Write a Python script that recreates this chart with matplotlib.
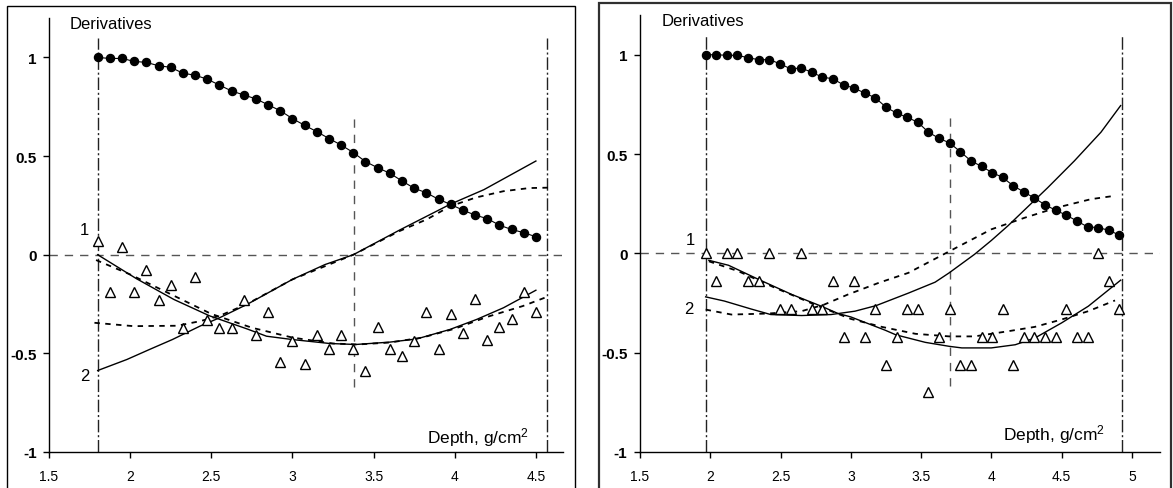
import matplotlib
matplotlib.use("Agg")
import matplotlib.pyplot as plt
from matplotlib.patches import Rectangle

plt.rcParams['font.family'] = ['Liberation Sans', 'DejaVu Sans']
plt.rcParams['mathtext.default'] = 'regular'

# ---------------- Left panel data ----------------
left_depth = [1.8, 1.875, 1.95, 2.025, 2.1, 2.175, 2.25, 2.325, 2.4, 2.475, 2.55, 2.625,
              2.7, 2.775, 2.85, 2.925, 3.0, 3.075, 3.15, 3.225, 3.3, 3.375, 3.45, 3.525,
              3.6, 3.675, 3.75, 3.825, 3.9, 3.975, 4.05, 4.125, 4.2, 4.275, 4.35, 4.425, 4.5]
left_circles = [1.0, 0.995, 0.995, 0.98, 0.975, 0.958, 0.95, 0.92, 0.91, 0.89, 0.86, 0.83,
                0.81, 0.79, 0.76, 0.73, 0.69, 0.656, 0.624, 0.589, 0.556, 0.518, 0.472, 0.441,
                0.413, 0.374, 0.337, 0.314, 0.281, 0.255, 0.226, 0.201, 0.183, 0.150, 0.128,
                0.112, 0.091]
left_triangles = [0.069, -0.188, 0.04, -0.188, -0.078, -0.227, -0.151, -0.37, -0.114, -0.332,
                  -0.37, -0.37, -0.227, -0.405, -0.29, -0.545, -0.439, -0.552, -0.405, -0.477,
                  -0.405, -0.477, -0.587, -0.366, -0.477, -0.515, -0.439, -0.291, -0.477,
                  -0.298, -0.396, -0.223, -0.433, -0.366, -0.328, -0.188, -0.29]

left_c1_solid_x = [1.8, 2.04, 2.27, 2.49, 2.72, 2.84, 3.0, 3.23, 3.39, 3.6, 3.765, 3.97, 4.135, 4.3, 4.5]
left_c1_solid_y = [0.0, -0.122, -0.227, -0.31, -0.376, -0.413, -0.43, -0.45, -0.455, -0.443,
                   -0.427, -0.379, -0.328, -0.269, -0.18]
left_c1_dash_x = [1.79, 2.0, 2.25, 2.5, 2.75, 3.0, 3.25, 3.4, 3.6, 3.8, 4.0, 4.2, 4.42, 4.58]
left_c1_dash_y = [-0.027, -0.1, -0.2, -0.3, -0.37, -0.42, -0.45, -0.455, -0.445, -0.42,
                  -0.375, -0.315, -0.26, -0.21]
left_c2_solid_x = [1.8, 1.98, 2.12, 2.26, 2.43, 2.55, 2.72, 3.0, 3.2, 3.375, 3.66, 3.87, 3.97, 4.18, 4.5]
left_c2_solid_y = [-0.587, -0.531, -0.48, -0.43, -0.362, -0.32, -0.252, -0.125, -0.05, 0.0,
                   0.125, 0.213, 0.255, 0.33, 0.475]
left_c2_dash_x = [1.78, 2.02, 2.29, 2.43, 2.55, 2.72, 3.0, 3.375, 3.66, 3.83, 3.97, 4.13, 4.3, 4.46, 4.58]
left_c2_dash_y = [-0.345, -0.362, -0.36, -0.337, -0.31, -0.25, -0.125, 0.0, 0.12, 0.18, 0.245,
                  0.29, 0.322, 0.338, 0.34]

# ---------------- Right panel data ----------------
right_depth = [1.967, 2.042, 2.118, 2.193, 2.269, 2.344, 2.42, 2.495, 2.571, 2.646, 2.722,
               2.797, 2.873, 2.948, 3.024, 3.099, 3.175, 3.25, 3.326, 3.401, 3.477, 3.552,
               3.628, 3.703, 3.779, 3.854, 3.93, 4.005, 4.081, 4.156, 4.232, 4.307, 4.383,
               4.458, 4.534, 4.609, 4.685, 4.76, 4.836, 4.911]
right_circles = [1.0, 1.0, 0.997, 0.997, 0.985, 0.975, 0.975, 0.955, 0.929, 0.933, 0.912,
                 0.887, 0.879, 0.848, 0.832, 0.807, 0.783, 0.736, 0.706, 0.685, 0.66, 0.61,
                 0.579, 0.556, 0.512, 0.466, 0.438, 0.407, 0.382, 0.34, 0.309, 0.278, 0.244,
                 0.217, 0.192, 0.163, 0.133, 0.13, 0.116, 0.092]
right_triangles = [0.0, -0.14, 0.0, 0.0, -0.14, -0.14, 0.0, -0.28, -0.28, 0.0, -0.28, -0.28,
                   -0.14, -0.42, -0.14, -0.42, -0.28, -0.56, -0.42, -0.28, -0.28, -0.70,
                   -0.42, -0.28, -0.56, -0.56, -0.42, -0.42, -0.28, -0.56, -0.42, -0.42,
                   -0.42, -0.42, -0.28, -0.42, -0.42, 0.0, -0.14, -0.28]

right_c1_solid_x = [1.99, 2.13, 2.34, 2.58, 2.79, 2.91, 3.0, 3.245, 3.32, 3.53, 3.7, 3.79, 4.0,
                    4.17, 4.31, 4.5, 4.69, 4.92]
right_c1_solid_y = [-0.035, -0.06, -0.13, -0.207, -0.266, -0.303, -0.32, -0.387, -0.41, -0.448,
                    -0.468, -0.476, -0.476, -0.46, -0.426, -0.35, -0.266, -0.135]
right_c1_dash_x = [1.99, 2.2, 2.45, 2.75, 3.0, 3.22, 3.46, 3.7, 3.88, 4.12, 4.31, 4.5, 4.69, 4.88]
right_c1_dash_y = [-0.04, -0.09, -0.17, -0.26, -0.33, -0.37, -0.405, -0.418, -0.418, -0.392,
                   -0.37, -0.333, -0.291, -0.237]
right_c2_solid_x = [1.967, 2.1, 2.29, 2.43, 2.65, 2.86, 3.03, 3.18, 3.41, 3.6, 3.7, 3.88, 4.0,
                    4.12, 4.26, 4.4, 4.59, 4.78, 4.92]
right_c2_solid_y = [-0.219, -0.24, -0.28, -0.308, -0.313, -0.308, -0.291, -0.263, -0.2, -0.145,
                    -0.098, -0.005, 0.065, 0.14, 0.235, 0.33, 0.465, 0.61, 0.744]
right_c2_dash_x = [1.967, 2.15, 2.41, 2.65, 2.81, 2.98, 3.2, 3.41, 3.7, 4.0, 4.24, 4.47, 4.71, 4.88]
right_c2_dash_y = [-0.283, -0.308, -0.303, -0.291, -0.258, -0.207, -0.148, -0.098, 0.01,
                   0.121, 0.18, 0.231, 0.273, 0.29]

y_ticks = [-1, -0.5, 0, 0.5, 1]
y_tick_labels = ['-1', '-0.5', '0', '0.5', '1']

W, H = 1173, 489
fig = plt.figure(figsize=(W / 100, H / 100), dpi=100)
fig.patch.set_facecolor('white')

# panel frames
fig.add_artist(Rectangle((7 / W, -0.05), (575 - 7) / W, 1 - 7 / H + 0.05,
                         transform=fig.transFigure, fill=False, ec='black', lw=1.0))
fig.add_artist(Rectangle((599 / W, -0.05), (1171 - 599) / W, 1 - 4 / H + 0.05,
                         transform=fig.transFigure, fill=False, ec='#303030', lw=1.6))


def make_panel(rect, xlim, xticks, xticklabels, depth, circles, tris,
               c1s, c1d, c2s, c2d, vlines, vmid, lab1, lab2, der_pos, depth_pos):
    ax = fig.add_axes(rect)
    ax.set_xlim(*xlim)
    ax.set_ylim(-1, 1.2)
    for s in ['top', 'right']:
        ax.spines[s].set_visible(False)
    for s in ['left', 'bottom']:
        ax.spines[s].set_linewidth(1.0)
    ax.set_yticks(y_ticks)
    ax.set_yticklabels(y_tick_labels, fontsize=11, fontweight='bold')
    ax.set_xticks(xticks)
    ax.set_xticklabels(xticklabels, fontsize=10)
    ax.tick_params(axis='y', length=4, width=1, pad=5, direction='out')
    ax.tick_params(axis='x', length=4, width=1, pad=8, direction='out')
    ax.patch.set_alpha(0)

    # reference lines
    ax.axhline(0, color='#555555', lw=1.0, ls=(0, (6, 5)), zorder=1)
    for xv in vlines:
        ax.plot([xv, xv], [-1, 1.1], color='#222222', lw=1.0, ls=(0, (9, 2, 1.5, 2)), zorder=1)
    ax.plot([vmid, vmid], [-0.67, 0.70], color='#555555', lw=1.0, ls=(0, (6, 5)), zorder=1)

    # curves
    ax.plot(*c1s, color='black', lw=1.0, zorder=3)
    ax.plot(*c1d, color='black', lw=1.3, ls=(0, (3, 3)), zorder=3)
    ax.plot(*c2s, color='black', lw=1.0, zorder=3)
    ax.plot(*c2d, color='black', lw=1.3, ls=(0, (3, 3)), zorder=3)

    # circles
    ax.plot(depth, circles, color='black', lw=0.8, marker='o', ms=5.8,
            mfc='black', mec='black', zorder=4)
    # triangles
    ax.plot(depth, tris, ls='none', marker='^', ms=7.0, mfc='white', mec='black',
            mew=1.0, zorder=5)

    ax.text(lab1[0], lab1[1], '1', fontsize=12, ha='center', va='center')
    ax.text(lab2[0], lab2[1], '2', fontsize=12, ha='center', va='center')
    ax.text(der_pos[0], der_pos[1], 'Derivatives', fontsize=12, ha='left', va='center')
    ax.text(depth_pos[0], depth_pos[1], 'Depth, g/cm$^2$', fontsize=12.5, ha='right', va='center')
    return ax


make_panel([49 / W, 1 - 453 / H, (563 - 49) / W, (453 - 19) / H], (1.5, 4.667),
           [1.5, 2, 2.5, 3, 3.5, 4, 4.5], ['1.5', '2', '2.5', '3', '3.5', '4', '4.5'],
           left_depth, left_circles, left_triangles,
           (left_c1_solid_x, left_c1_solid_y), (left_c1_dash_x, left_c1_dash_y),
           (left_c2_solid_x, left_c2_solid_y), (left_c2_dash_x, left_c2_dash_y),
           [1.8, 4.57], 3.38, (1.72, 0.13), (1.72, -0.61), (1.63, 1.17), (4.46, -0.92))

make_panel([640 / W, 1 - 453 / H, (1160 - 640) / W, (453 - 16) / H], (1.5, 5.2),
           [1.5, 2, 2.5, 3, 3.5, 4, 4.5, 5], ['1.5', '2', '2.5', '3', '3.5', '4', '4.5', '5'],
           right_depth, right_circles, right_triangles,
           (right_c1_solid_x, right_c1_solid_y), (right_c1_dash_x, right_c1_dash_y),
           (right_c2_solid_x, right_c2_solid_y), (right_c2_dash_x, right_c2_dash_y),
           [1.967, 4.933], 3.705, (1.855, 0.07), (1.85, -0.28), (1.656, 1.17), (4.81, -0.905))

fig.savefig('out.png', dpi=100)
